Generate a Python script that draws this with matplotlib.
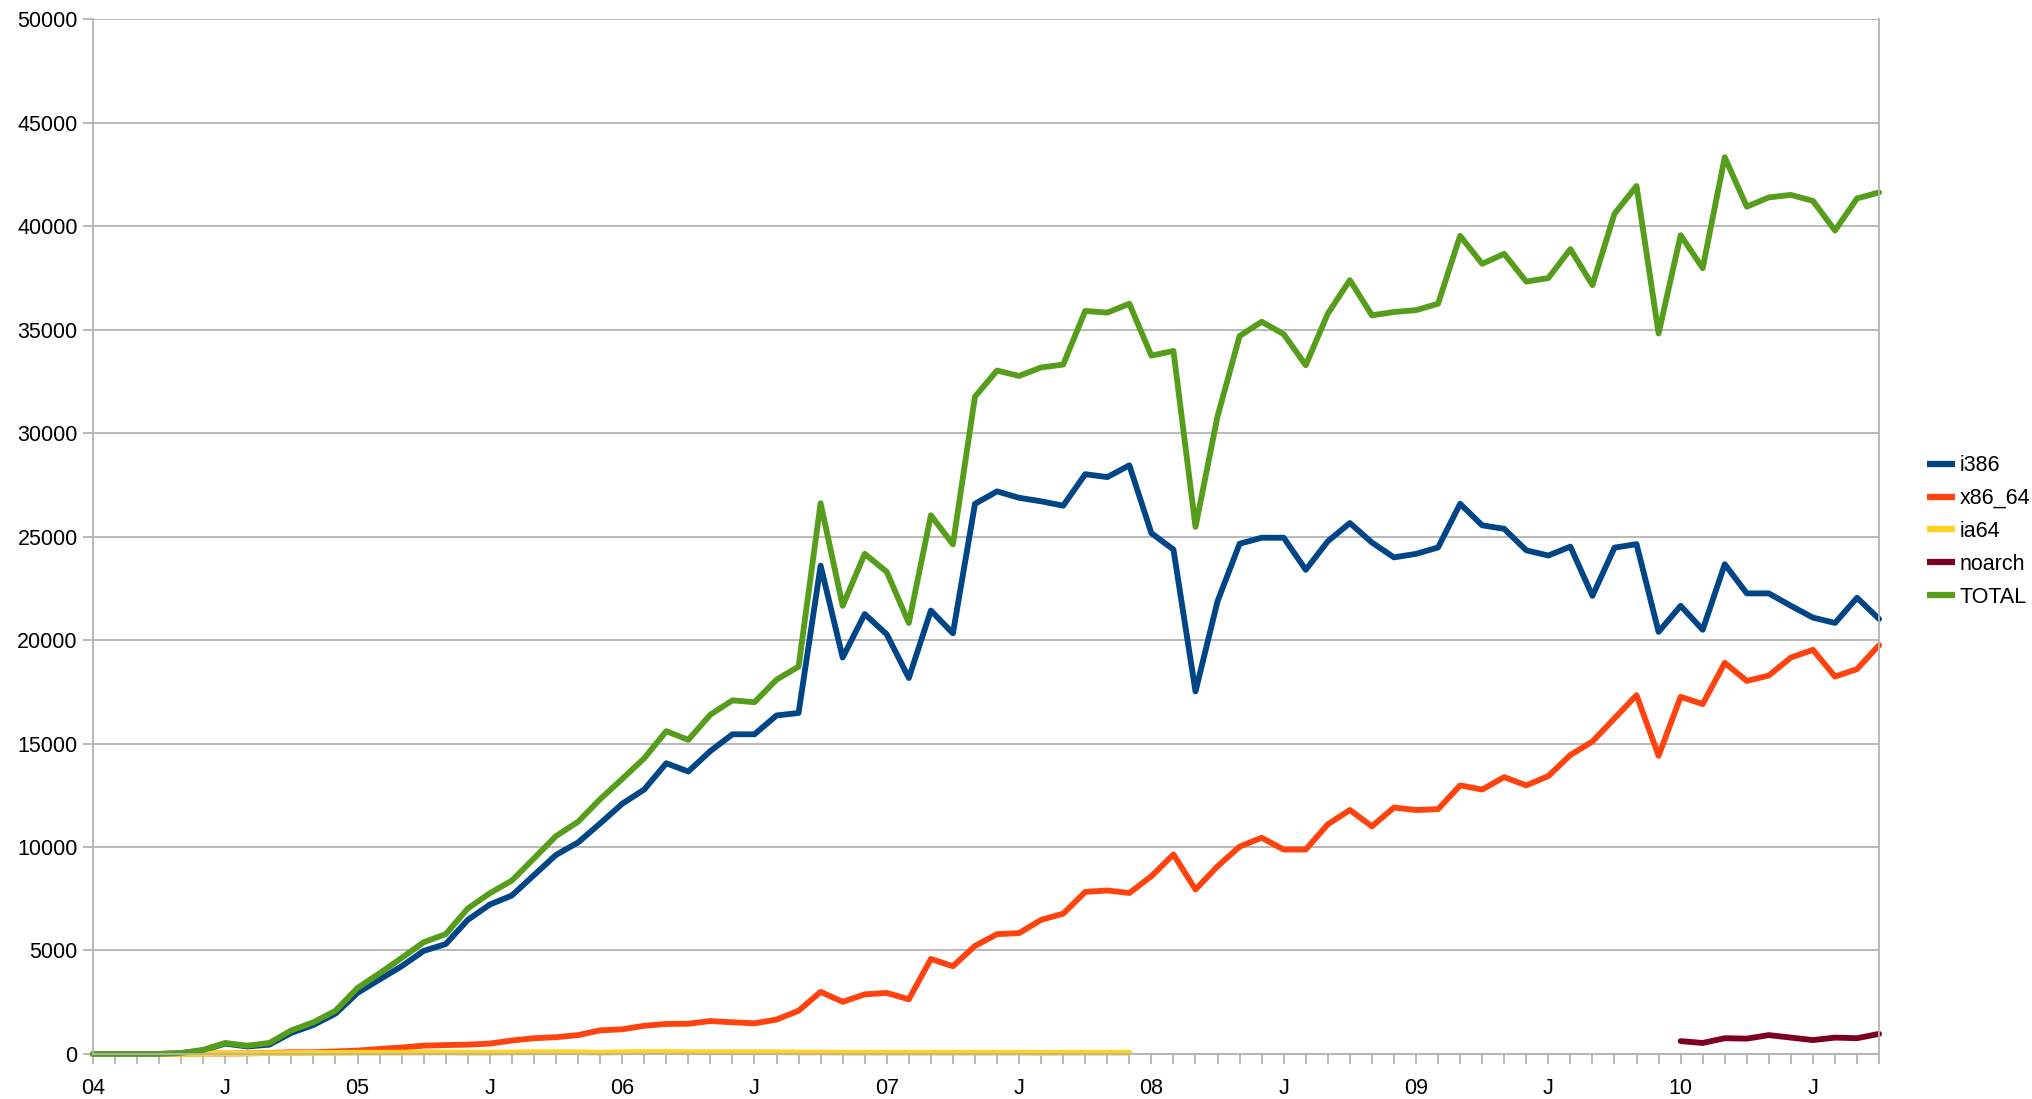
import numpy as np
import matplotlib
matplotlib.use('Agg')
import matplotlib.pyplot as plt

# months since Jan 2004 (Jan 2004 .. Oct 2010)
months = list(range(82))

i386 = [0, 0, 0, 0, 30, 180, 500, 360, 450, 1020,
        1400, 1950, 2950, 3600, 4240, 4980, 5310, 6480, 7220, 7660,
        8640, 9620, 10220, 11140, 12090, 12780, 14050, 13650, 14640, 15450,
        15450, 16360, 16480, 23600, 19160, 21260, 20280, 18170, 21430, 20330,
        26590, 27190, 26880, 26710, 26500, 28020, 27880, 28450, 25170, 24380,
        17520, 21880, 24660, 24950, 24950, 23400, 24780, 25660, 24720, 24000,
        24170, 24480, 26590, 25550, 25380, 24340, 24090, 24520, 22140, 24470,
        24640, 20400, 21660, 20500, 23670, 22260, 22260, 21660, 21090, 20830,
        22050, 21020]

x86_64 = [0, 0, 0, 0, 0, 20, 20, 30, 50, 80,
          80, 120, 160, 240, 310, 400, 430, 450, 500, 650,
          760, 810, 910, 1140, 1190, 1360, 1450, 1460, 1590, 1530,
          1480, 1660, 2090, 3000, 2520, 2880, 2950, 2640, 4590, 4240,
          5220, 5790, 5840, 6480, 6780, 7830, 7900, 7780, 8590, 9640,
          7950, 9070, 10020, 10450, 9880, 9880, 11100, 11790, 11000, 11910,
          11790, 11830, 12980, 12780, 13380, 12980, 13430, 14450, 15100, 16220,
          17340, 14410, 17260, 16910, 18900, 18030, 18290, 19160, 19530, 18240,
          18600, 19760]

ia64 = [0, 0, 0, 0, 0, 10, 30, 30, 40, 40,
        50, 50, 60, 60, 60, 70, 70, 60, 60, 70,
        80, 80, 80, 60, 80, 90, 90, 80, 80, 80,
        80, 80, 70, 70, 60, 60, 60, 60, 60, 60,
        60, 60, 60, 50, 60, 60, 60, 60] + [np.nan] * 34

noarch = [np.nan] * 72 + [620, 530, 760, 740, 910, 790, 670, 790, 760, 970]

total = [0, 0, 0, 0, 50, 190, 530, 400, 530, 1140,
         1530, 2090, 3190, 3900, 4640, 5400, 5790, 7030, 7770, 8380,
         9450, 10530, 11220, 12310, 13290, 14290, 15600, 15180, 16400, 17090,
         17000, 18090, 18720, 26620, 21660, 24170, 23300, 20830, 26035, 24630,
         31770, 33030, 32770, 33180, 33320, 35910, 35830, 36260, 33750, 33980,
         25470, 30820, 34700, 35390, 34790, 33290, 35780, 37400, 35700, 35860,
         35950, 36260, 39540, 38190, 38670, 37330, 37500, 38900, 37160, 40610,
         41950, 34820, 39570, 37980, 43340, 40950, 41400, 41520, 41230, 39800,
         41350, 41640]

series_names = ["i386", "x86_64", "ia64", "noarch", "TOTAL"]
series_colors = ["#004586", "#ff420e", "#ffd320", "#7e0021", "#579d1c"]

tick_labels = ["04", "J", "05", "J", "06", "J", "07", "J", "08", "J", "09", "J", "10", "J"]


def main():
    plt.rcParams['font.family'] = ['Liberation Sans', 'DejaVu Sans']
    fig = plt.figure(figsize=(20.33, 10.99), dpi=100)
    ax = fig.add_axes([0.0457, 0.041, 0.8786, 0.9413])

    grid_color = "#b3b3b3"
    ax.set_ylim(0, 50000)
    ax.set_xlim(months[0], months[-1])
    ax.set_yticks(range(0, 50001, 5000))
    ax.yaxis.grid(True, color=grid_color, linewidth=1.3)
    ax.set_axisbelow(True)

    data = [i386, x86_64, ia64, noarch, total]
    for values, name, color in zip(data, series_names, series_colors):
        ax.plot(months, values, color=color, linewidth=4.2, label=name,
                solid_joinstyle='round', solid_capstyle='round', clip_on=False)

    # one tick per month, labels every six months
    ax.set_xticks(months, minor=True)
    ax.set_xticks(months[::6])
    ax.set_xticklabels(tick_labels)
    ax.tick_params(axis='x', which='both', direction='out', length=7,
                   width=1.3, color=grid_color, labelsize=15.5, pad=10)
    ax.tick_params(axis='y', direction='out', length=7, width=1.3,
                   color=grid_color, labelsize=15.5, pad=4)

    for side in ['left', 'right', 'bottom']:
        ax.spines[side].set_color(grid_color)
        ax.spines[side].set_linewidth(1.3)
    ax.spines['top'].set_visible(False)

    leg = ax.legend(loc='center left', bbox_to_anchor=(1.022, 0.505),
                    frameon=False, fontsize=15.5, handlelength=1.3,
                    handletextpad=0.2, labelspacing=0.55, borderaxespad=0)
    for line in leg.get_lines():
        line.set_linewidth(4.5)
        line.set_solid_capstyle('butt')

    fig.savefig("out.png", dpi=100)


if __name__ == "__main__":
    main()
